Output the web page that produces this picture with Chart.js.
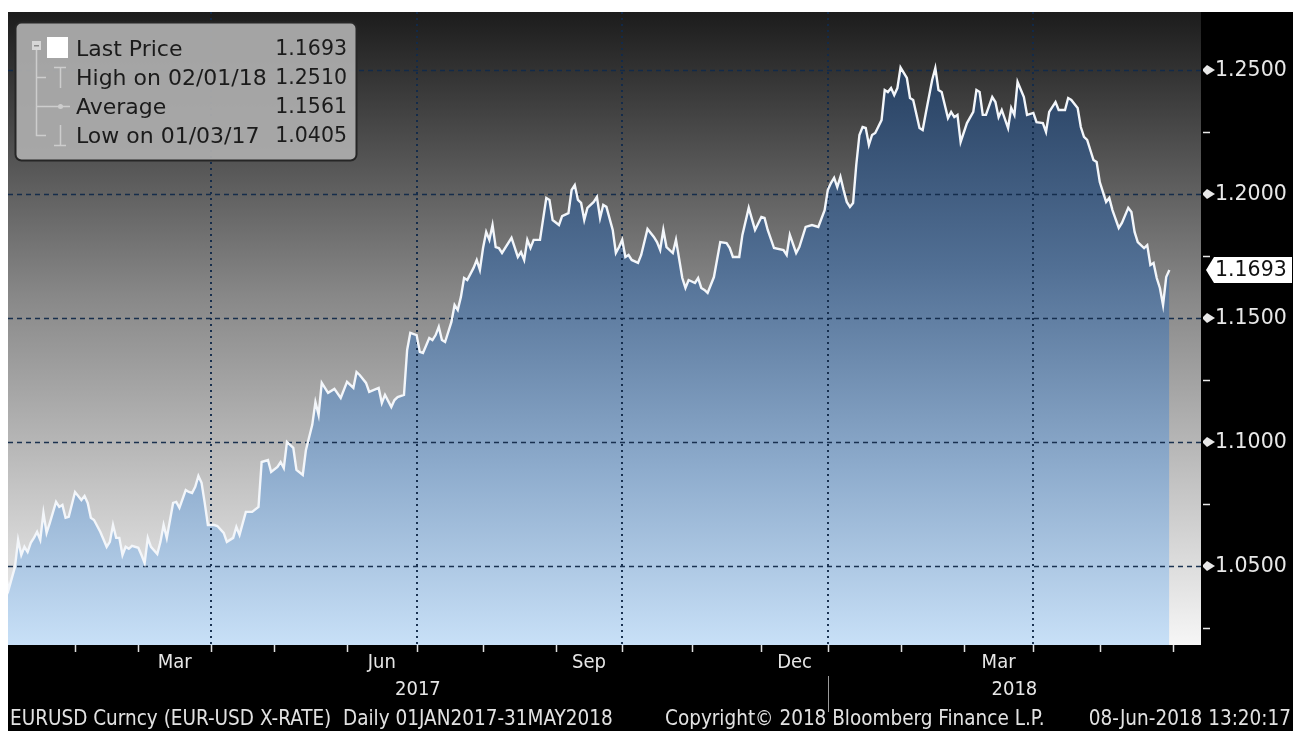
<!DOCTYPE html>
<html>
<head>
<meta charset="utf-8">
<script src="https://cdn.jsdelivr.net/npm/chart.js@4.4.0/dist/chart.umd.min.js"></script>
<style>
  html, body { margin: 0; padding: 0; background: #fff; }
  canvas { display: block; }
</style>
</head>
<body>
<canvas id="fx" width="1293" height="731"></canvas>
<script>
// trading day index (weekdays counted from Mon 02 Jan 2017) and EURUSD close
const tradingDay = [
  0, 1, 3, 4, 5, 6, 7, 8, 9, 10, 11, 12, 13, 14, 16, 17, 18, 19, 20, 22,
  24, 25, 26, 27, 28, 30, 32, 33, 34, 35, 36, 37, 38, 39, 40, 42, 43, 44, 45, 46,
  48, 49, 50, 51, 53, 54, 55, 57, 58, 59, 60, 61, 62, 63, 64, 66, 67, 69, 70, 72,
  73, 74, 76, 78, 80, 81, 83, 84, 86, 87, 88, 89, 91, 92, 94, 95, 97, 98, 99, 100,
  102, 104, 106, 108, 110, 111, 112, 114, 115, 118, 119, 120, 122, 123, 124, 126, 127, 128, 130, 131,
  132, 134, 135, 136, 137, 138, 139, 141, 142, 143, 144, 145, 146, 148, 149, 150, 151, 152, 153, 154,
  155, 156, 157, 160, 162, 163, 164, 165, 166, 167, 169, 171, 172, 173, 175, 176, 178, 179, 180, 181,
  182, 183, 184, 186, 187, 188, 189, 190, 192, 193, 194, 195, 196, 197, 198, 200, 201, 203, 205, 206,
  207, 208, 209, 211, 212, 214, 215, 216, 218, 219, 220, 221, 222, 224, 226, 228, 229, 230, 232, 233,
  235, 237, 239, 240, 241, 243, 246, 247, 248, 250, 251, 253, 255, 257, 259, 260, 261, 262, 263, 264,
  265, 266, 267, 268, 269, 270, 271, 272, 273, 274, 275, 277, 278, 279, 280, 281, 282, 283, 285, 286,
  287, 289, 290, 291, 293, 294, 295, 296, 298, 299, 300, 301, 302, 304, 306, 307, 308, 309, 310, 312,
  313, 314, 315, 317, 318, 319, 320, 322, 323, 325, 326, 328, 329, 330, 332, 333, 335, 336, 337, 339,
  340, 341, 342, 344, 345, 346, 348, 349, 350, 352, 353, 355, 356, 357, 358, 360, 361, 362, 363, 364,
  365, 366, 367, 368
];
const eurusd = [
  1.0472, 1.0405, 1.0496, 1.0605, 1.0544, 1.0577, 1.0556, 1.0593, 1.0613, 1.0637, 1.0605, 1.0714, 1.0633, 1.0673, 1.0758, 1.0738, 1.0746, 1.0694, 1.0698, 1.0798,
  1.0766, 1.0782, 1.0754, 1.0694, 1.0685, 1.0637, 1.0577, 1.0597, 1.0665, 1.0613, 1.0613, 1.0544, 1.0577, 1.0569, 1.0581, 1.0573, 1.0544, 1.0512, 1.0613, 1.0577,
  1.0548, 1.0597, 1.0665, 1.0613, 1.0754, 1.0758, 1.0734, 1.0806, 1.0798, 1.0794, 1.0819, 1.0863, 1.0835, 1.0754, 1.0665, 1.0665, 1.0661, 1.0633, 1.0597, 1.0613,
  1.0657, 1.0625, 1.0718, 1.0718, 1.0738, 1.0919, 1.0927, 1.0879, 1.0899, 1.0919, 1.0895, 1.1000, 1.0976, 1.0887, 1.0867, 1.0968, 1.1069, 1.1161, 1.1109, 1.1238,
  1.1198, 1.1214, 1.1177, 1.1242, 1.1218, 1.1282, 1.1270, 1.1238, 1.1202, 1.1218, 1.1157, 1.1190, 1.1141, 1.1169, 1.1181, 1.1190, 1.1371, 1.1440, 1.1431, 1.1363,
  1.1359, 1.1419, 1.1411, 1.1431, 1.1464, 1.1411, 1.1403, 1.1484, 1.1552, 1.1532, 1.1585, 1.1661, 1.1653, 1.1702, 1.1734, 1.1694, 1.1782, 1.1847, 1.1815, 1.1875,
  1.1786, 1.1782, 1.1762, 1.1823, 1.1746, 1.1766, 1.1734, 1.1815, 1.1782, 1.1815, 1.1815, 1.1984, 1.1976, 1.1895, 1.1875, 1.1911, 1.1923, 1.2016, 1.2036, 1.1976,
  1.1964, 1.1895, 1.1944, 1.1968, 1.1988, 1.1903, 1.1956, 1.1948, 1.1855, 1.1762, 1.1786, 1.1815, 1.1746, 1.1754, 1.1734, 1.1722, 1.1754, 1.1859, 1.1827, 1.1806,
  1.1774, 1.1855, 1.1786, 1.1762, 1.1815, 1.1661, 1.1621, 1.1653, 1.1641, 1.1661, 1.1621, 1.1613, 1.1601, 1.1665, 1.1806, 1.1802, 1.1782, 1.1746, 1.1746, 1.1835,
  1.1944, 1.1855, 1.1907, 1.1903, 1.1855, 1.1782, 1.1774, 1.1754, 1.1835, 1.1762, 1.1786, 1.1867, 1.1875, 1.1867, 1.1935, 1.2016, 1.2044, 1.2065, 1.2028, 1.2069,
  1.2016, 1.1968, 1.1948, 1.1964, 1.2117, 1.2238, 1.2270, 1.2266, 1.2198, 1.2238, 1.2246, 1.2298, 1.2419, 1.2411, 1.2427, 1.2399, 1.2427, 1.2510, 1.2468, 1.2387,
  1.2379, 1.2266, 1.2258, 1.2327, 1.2460, 1.2508, 1.2419, 1.2411, 1.2306, 1.2331, 1.2310, 1.2319, 1.2210, 1.2286, 1.2331, 1.2419, 1.2411, 1.2319, 1.2319, 1.2391,
  1.2371, 1.2310, 1.2339, 1.2266, 1.2347, 1.2319, 1.2452, 1.2391, 1.2319, 1.2327, 1.2290, 1.2286, 1.2250, 1.2331, 1.2371, 1.2339, 1.2339, 1.2387, 1.2379, 1.2347,
  1.2270, 1.2230, 1.2218, 1.2137, 1.2129, 1.2048, 1.1968, 1.1984, 1.1935, 1.1863, 1.1883, 1.1944, 1.1927, 1.1847, 1.1806, 1.1782, 1.1794, 1.1714, 1.1722, 1.1661,
  1.1621, 1.1552, 1.1665, 1.1693
];

// axis definitions
const yTicks = [1.05, 1.10, 1.15, 1.20, 1.25];
const yMinorTicks = [1.025, 1.075, 1.125, 1.175, 1.225];
const monthStarts = [0, 22, 42, 65, 85, 108, 130, 151, 174, 195, 217, 239, 260, 283, 303, 325, 346, 369];
const quarterStarts = [65, 130, 195, 260, 325];
const monthLabels = ['Mar', 'Jun', 'Sep', 'Dec', 'Mar'];
const monthLabelAt = [53.5, 119, 184.5, 249.5, 314];
const yearLabels = ['2017', '2018'];
const yearStarts = [0.8, 260];

// legend
const legendLabels = ['Last Price', 'High on 02/01/18', 'Average', 'Low on 01/03/17'];
const legendValues = ['1.1693', '1.2510', '1.1561', '1.0405'];

const footerLeft = 'EURUSD Curncy (EUR-USD X-RATE)  Daily 01JAN2017-31MAY2018';
const footerMid = 'Copyright\u00A9 2018 Bloomberg Finance L.P.';
const footerRight = '08-Jun-2018 13:20:17';

const points = tradingDay.map((d, i) => ({ x: d, y: eurusd[i] }));

const SANS = '"DejaVu Sans", Verdana, sans-serif';
const COND = '"DejaVu Sans Condensed", "DejaVu Sans", sans-serif';

function fillGradient(c) {
  const a = c.chart.chartArea;
  if (!a) return 'rgba(0,0,0,0)';
  const g = c.chart.ctx.createLinearGradient(0, a.top + 50, 0, a.bottom);
  g.addColorStop(0, '#263f60');
  g.addColorStop(0.35, '#516f94');
  g.addColorStop(0.7, '#8eaccd');
  g.addColorStop(1, '#c8e0f7');
  return g;
}

const bbg = {
  id: 'bbg',
  beforeDraw(chart) {
    const ctx = chart.ctx, a = chart.chartArea;
    ctx.save();
    ctx.fillStyle = '#ffffff';
    ctx.fillRect(0, 0, chart.width, chart.height);
    ctx.fillStyle = '#000000';
    ctx.fillRect(8, 12, chart.width - 8, chart.height - 12);
    // plot background
    const g = ctx.createLinearGradient(0, a.top, 0, a.bottom);
    g.addColorStop(0, '#1c1c1c');
    g.addColorStop(0.45, '#888888');
    g.addColorStop(1, '#f6f6f6');
    ctx.fillStyle = g;
    ctx.fillRect(a.left, a.top, a.right - a.left, a.bottom - a.top);
    ctx.restore();
  },
  afterDatasetDraw(chart, args) {
    if (args.index !== 0) return;
    // grid drawn over the area fill, under the price line
    const ctx = chart.ctx, a = chart.chartArea;
    const xs = chart.scales.x, ys = chart.scales.y;
    ctx.save();
    ctx.beginPath();
    ctx.rect(a.left, a.top, a.right - a.left, a.bottom - a.top);
    ctx.clip();
    ctx.strokeStyle = 'rgba(18,42,74,0.95)';
    ctx.lineWidth = 1.6;
    ctx.setLineDash([5, 4]);
    yTicks.forEach(v => {
      const y = Math.round(ys.getPixelForValue(v)) + 0.5;
      ctx.beginPath(); ctx.moveTo(a.left, y); ctx.lineTo(a.right, y); ctx.stroke();
    });
    ctx.setLineDash([2, 4]);
    ctx.lineWidth = 2;
    quarterStarts.forEach(d => {
      const x = Math.round(xs.getPixelForValue(d));
      ctx.beginPath(); ctx.moveTo(x, a.top); ctx.lineTo(x, a.bottom); ctx.stroke();
    });
    ctx.restore();
  },
  afterDraw(chart) {
    const ctx = chart.ctx, a = chart.chartArea;
    const xs = chart.scales.x, ys = chart.scales.y;
    ctx.save();

    // right axis
    ctx.fillStyle = '#e8e8e8';
    ctx.strokeStyle = '#e8e8e8';
    ctx.font = '20.5px ' + SANS;
    ctx.textAlign = 'left';
    ctx.textBaseline = 'middle';
    yTicks.forEach(v => {
      const y = Math.round(ys.getPixelForValue(v));
      ctx.beginPath();
      ctx.moveTo(a.right + 2, y - 1);
      ctx.lineTo(a.right + 6, y - 5);
      ctx.lineTo(a.right + 14, y);
      ctx.lineTo(a.right + 6, y + 5);
      ctx.lineTo(a.right + 2, y + 1);
      ctx.closePath();
      ctx.fill();
      ctx.fillText(v.toFixed(4), a.right + 14, y + 1);
    });
    ctx.lineWidth = 1.5;
    yMinorTicks.forEach(v => {
      const y = Math.round(ys.getPixelForValue(v)) + 0.5;
      if (y < a.top || y > a.bottom) return;
      ctx.beginPath(); ctx.moveTo(a.right + 2, y); ctx.lineTo(a.right + 9, y); ctx.stroke();
    });

    // last price tag
    const last = eurusd[eurusd.length - 1];
    const ly = Math.round(ys.getPixelForValue(last));
    ctx.fillStyle = '#ffffff';
    ctx.beginPath();
    ctx.moveTo(a.right + 5, ly);
    ctx.lineTo(a.right + 13, ly - 13);
    ctx.lineTo(chart.width - 1, ly - 13);
    ctx.lineTo(chart.width - 1, ly + 13);
    ctx.lineTo(a.right + 13, ly + 13);
    ctx.closePath();
    ctx.fill();
    ctx.fillStyle = '#111111';
    ctx.fillText(last.toFixed(4), a.right + 14, ly + 1);

    // bottom axis ticks
    ctx.strokeStyle = '#e0e0e0';
    ctx.lineWidth = 1.5;
    monthStarts.forEach(d => {
      const x = Math.round(xs.getPixelForValue(d)) + 0.5;
      if (x < a.left || x > a.right) return;
      ctx.beginPath(); ctx.moveTo(x, a.bottom); ctx.lineTo(x, a.bottom + 7); ctx.stroke();
    });
    ctx.fillStyle = '#e6e6e6';
    ctx.font = '20px ' + COND;
    ctx.textAlign = 'center';
    monthLabels.forEach((m, i) => {
      ctx.fillText(m, xs.getPixelForValue(monthLabelAt[i]), a.bottom + 18);
    });
    yearLabels.forEach((yr, i) => {
      const s = xs.getPixelForValue(yearStarts[i]);
      const e = i + 1 < yearStarts.length ? xs.getPixelForValue(yearStarts[i + 1]) : a.right;
      ctx.fillText(yr, (s + e) / 2, a.bottom + 45);
    });
    const sep = Math.round(xs.getPixelForValue(yearStarts[1])) + 0.5;
    ctx.strokeStyle = '#9a9a9a';
    ctx.lineWidth = 1;
    ctx.beginPath(); ctx.moveTo(sep, a.bottom + 31); ctx.lineTo(sep, a.bottom + 67); ctx.stroke();

    // footer
    ctx.font = '20.5px ' + COND;
    ctx.fillStyle = '#e2e2e2';
    ctx.textAlign = 'left';
    ctx.fillText(footerLeft, 10, 720);
    ctx.fillText(footerMid, 665, 720);
    ctx.textAlign = 'right';
    ctx.fillText(footerRight, 1291, 720);

    // legend box
    ctx.beginPath();
    ctx.roundRect(15.5, 22.5, 341, 138, 6);
    ctx.fillStyle = 'rgba(172,172,172,0.94)';
    ctx.fill();
    ctx.strokeStyle = '#262626';
    ctx.lineWidth = 2;
    ctx.stroke();

    const rowY = [50, 79, 108, 137];
    // tree lines and markers
    ctx.strokeStyle = '#cdcdcd';
    ctx.lineWidth = 1.5;
    ctx.beginPath();
    ctx.moveTo(36.5, 48); ctx.lineTo(36.5, 135.5); ctx.lineTo(46, 135.5);
    ctx.moveTo(36.5, 77.5); ctx.lineTo(46, 77.5);
    ctx.moveTo(36.5, 106.5); ctx.lineTo(70, 106.5);
    ctx.stroke();
    ctx.fillStyle = '#d6d6d6';
    ctx.fillRect(32, 41, 9, 9);
    ctx.fillStyle = '#8a8a8a';
    ctx.fillRect(34, 45, 5, 1.5);
    ctx.beginPath();
    ctx.moveTo(54, 67.5); ctx.lineTo(66, 67.5);
    ctx.moveTo(60.5, 67.5); ctx.lineTo(60.5, 88);
    ctx.moveTo(54, 145.5); ctx.lineTo(66, 145.5);
    ctx.moveTo(60.5, 125); ctx.lineTo(60.5, 145.5);
    ctx.stroke();
    ctx.beginPath(); ctx.arc(60.5, 106.5, 2.5, 0, Math.PI * 2); ctx.fillStyle = '#cdcdcd'; ctx.fill();
    ctx.fillStyle = '#ffffff';
    ctx.fillRect(47, 37, 21, 21);

    ctx.fillStyle = '#1b1b1b';
    ctx.textBaseline = 'middle';
    legendLabels.forEach((t, i) => {
      ctx.font = '22px ' + SANS;
      ctx.textAlign = 'left';
      ctx.fillText(t, 76, rowY[i]);
      ctx.font = '20.5px ' + SANS;
      ctx.textAlign = 'right';
      ctx.fillText(legendValues[i], 347, rowY[i]);
    });

    ctx.restore();
  }
};

new Chart(document.getElementById('fx'), {
  type: 'line',
  data: {
    datasets: [
      {
        data: points,
        fill: 'start',
        backgroundColor: fillGradient,
        borderWidth: 0,
        pointRadius: 0,
        order: 2
      },
      {
        data: points,
        fill: false,
        borderColor: '#f3f6fa',
        borderWidth: 2.4,
        pointRadius: 0,
        order: 1
      }
    ]
  },
  options: {
    responsive: false,
    animation: false,
    events: [],
    layout: { padding: { left: 8, top: 12, right: 92, bottom: 86 } },
    plugins: { legend: { display: false }, tooltip: { enabled: false } },
    scales: {
      x: { type: 'linear', min: 0.8, max: 378, display: false },
      y: { type: 'linear', min: 1.0181, max: 1.2734, display: false }
    }
  },
  plugins: [bbg]
});
</script>
</body>
</html>
